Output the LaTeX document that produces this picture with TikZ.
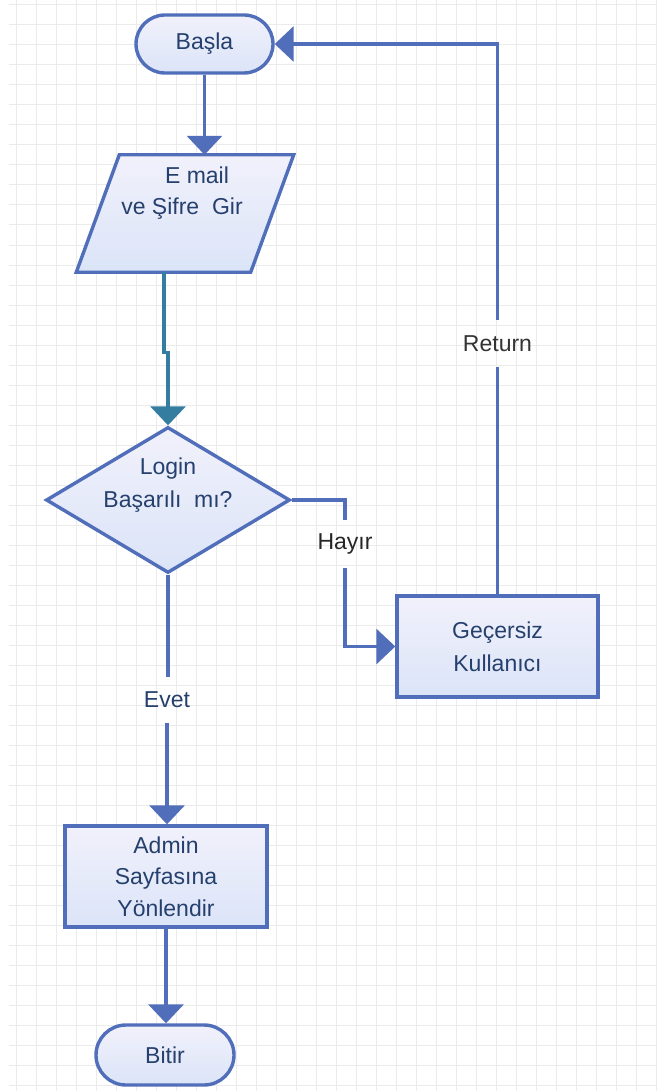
\documentclass[tikz,border=0pt]{standalone}
\usepackage{fontspec}
\setmainfont{Liberation Sans}
\usetikzlibrary{shapes.geometric,shapes.misc,arrows.meta}
\definecolor{ln}{HTML}{506EB9}
\definecolor{tl}{HTML}{347DA0}
\definecolor{tx}{HTML}{26406E}
\definecolor{fa}{HTML}{F1F1FB}
\definecolor{fb}{HTML}{DBE4F8}
\definecolor{gr}{HTML}{EBEBEB}
\begin{document}
\begin{tikzpicture}[x=1pt,y=-1pt,
  font=\fontsize{23}{33}\selectfont,
  shp/.style={draw=ln, line width=3.4pt, top color=fa, bottom color=fb, text=tx, align=center, inner sep=0pt},
  term/.style={shp, rounded rectangle},
  box/.style={shp, rectangle},
  conn/.style={draw=ln, line width=3.4pt},
  tconn/.style={draw=tl, line width=3.4pt},
  tip/.style={-{Triangle[width=35pt,length=19pt]}},
  lbl/.style={inner sep=0pt, minimum height=#1},
  txt/.style={inner sep=0pt, text=tx, align=center},
]
\useasboundingbox (0,0) rectangle (656,1091);
\fill[white] (0,0) rectangle (656,1091);
\foreach \i in {0,...,32} \draw[gr, line width=1pt] (16+20*\i,0) -- (16+20*\i,1091);
\foreach \j in {0,...,54} \draw[gr, line width=1pt] (9,5+20*\j) -- (656,5+20*\j);

% shapes
\node[term, minimum width=137pt, minimum height=58pt] (b) at (204.5,44) {Başla};
\node[inner sep=0pt, minimum width=174pt, minimum height=117pt] (p) at (185,213.5) {};
\path[shp] ([xshift=21.5pt]p.north west) -- ([xshift=21.5pt]p.north east)
  -- ([xshift=-21.5pt]p.south east) -- ([xshift=-21.5pt]p.south west) -- cycle;
\node[txt] (pa) at (197,175) {E mail};
\node[txt] (pb) at (182,209) {ve Şifre\ \ Gir};

\node[shp, diamond, minimum width=244pt, minimum height=146pt] (d) at (168,500) {};
\node[txt] (dt) at (168,485) {Login\\Başarılı\ \ mı?};

\node[box, minimum width=201pt, minimum height=101pt] (g) at (497.5,646.5) {Geçersiz\\Kullanıcı};
\node[box, minimum width=202pt, minimum height=101pt, font=\fontsize{23}{31.5}\selectfont] (a) at (166,876.5) {Admin\\Sayfasına\\Yönlendir};
\node[term, minimum width=138pt, minimum height=60pt] (e) at (165,1055) {Bitir};

% labels
\node[lbl=48pt, text=black!85] (hy) at (345,544) {Hayır};
\node[lbl=47pt, text=black!80] (rt) at (497.5,343.5) {Return};
\node[lbl=46pt, text=tx] (ev) at (167,700) {Evet};

% connectors
\draw[conn, tip] (b.south) -- (b.south |- p.north);
\draw[tconn, tip] ([xshift=-21pt]p.south) -- ++(0,80) -| (d.north);
\draw[conn] (d.east) -| (hy.north);
\draw[conn, tip] (hy.south) |- (g.west);
\draw[conn] (g.north) -- (rt.south);
\draw[conn, tip] (rt.north) |- (b.east);
\draw[conn] (d.south) -- (d.south |- ev.north);
\draw[conn, tip] (ev.south) -- (ev.south |- a.north);
\draw[conn, tip] (a.south) -- (a.south |- e.north);
\end{tikzpicture}
\end{document}
